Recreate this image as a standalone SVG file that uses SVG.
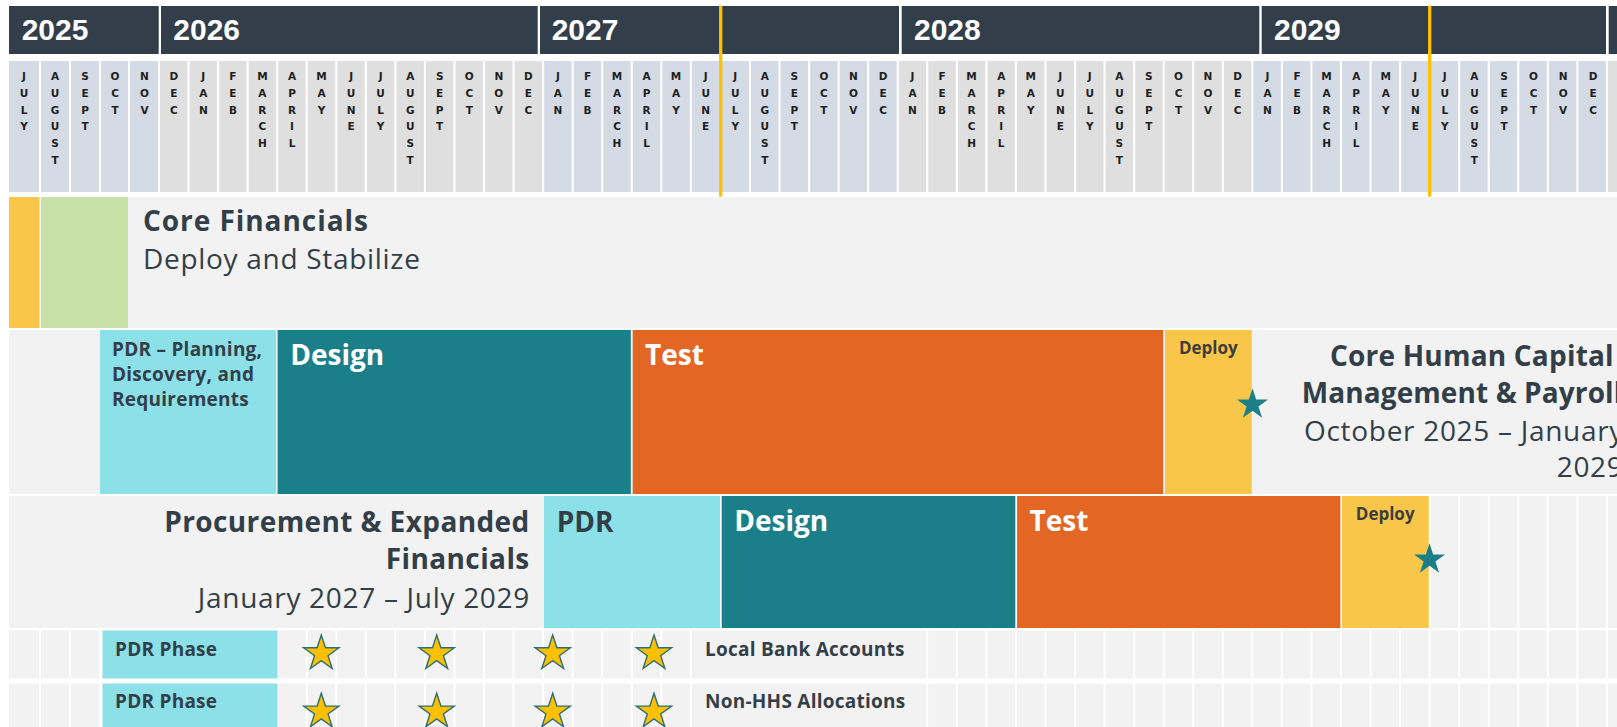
<svg xmlns="http://www.w3.org/2000/svg" width="1617" height="727" viewBox="0 0 1617 727">
  <style>
    .yr{fill:#323e49}
    .yt{font:700 30px "Liberation Sans",Arial,sans-serif;fill:#ffffff}
    .hb{fill:#d4dbe4}
    .hg{fill:#dfdfdf}
    .m{font:700 10.5px "DejaVu Sans",sans-serif;fill:#1e1e1e;text-anchor:middle}
    .band,.cell{fill:#f2f2f2}
    .yel{fill:#f8c749}
    .grn{fill:#c6e0a5}
    .cyn{fill:#8ce0e8}
    .teal{fill:#1b7f8a}
    .org{fill:#e36624}
    .h1{font:700 28px "Open Sans",sans-serif;fill:#333f48;letter-spacing:0.4px}
    .h2{font:400 28px "Open Sans",sans-serif;fill:#333f48;letter-spacing:0.7px}
    .bw{font:700 28px "Open Sans",sans-serif;fill:#ffffff}
    .bd{font:700 28px "Open Sans",sans-serif;fill:#333f48}
    .sm{font:700 19px "Open Sans",sans-serif;fill:#333f48;letter-spacing:0.25px}
    .dep{font:700 17px "Open Sans",sans-serif;fill:#3d3d3d;text-anchor:middle}
    .gold{stroke:#ffc000;stroke-width:3.3}
    .ystar{fill:#ffc000;stroke:#2f6f72;stroke-width:1.4;stroke-linejoin:miter}
    .tstar{fill:#1b7f8a}
  </style>
  <defs>
    <path id="star-y" d="M0,-18.5 L4.16,-5.72 L17.6,-5.72 L6.72,2.18 L10.87,14.97 L0,7.07 L-10.87,14.97 L-6.72,2.18 L-17.6,-5.72 L-4.16,-5.72 Z"/>
    <path id="star-t" d="M0,-16.3 L3.66,-5.04 L15.5,-5.04 L5.92,1.92 L9.58,13.19 L0,6.23 L-9.58,13.19 L-5.92,1.92 L-15.5,-5.04 L-3.66,-5.04 Z"/>
  </defs>

  <rect width="1617" height="727" fill="#ffffff"/>

  <!-- year bar -->
  <g id="years">
    <rect class="yr" x="9" y="6" width="149.7" height="48"/>
    <rect class="yr" x="161" y="6" width="376.7" height="48"/>
    <rect class="yr" x="540" y="6" width="359" height="48"/>
    <rect class="yr" x="901.7" y="6" width="357.6" height="48"/>
    <rect class="yr" x="1261.7" y="6" width="344.3" height="48"/>
    <rect class="yr" x="1608.7" y="6" width="9" height="48"/>
    <text class="yt" x="21.7" y="40">2025</text>
    <text class="yt" x="173.3" y="40">2026</text>
    <text class="yt" x="551.7" y="40">2027</text>
    <text class="yt" x="914" y="40">2028</text>
    <text class="yt" x="1274" y="40">2029</text>
  </g>

  <!-- month cells -->
  <g id="month-cells">
    <rect class="hb" x="9" y="61" width="30" height="131"/>
    <rect class="hb" x="41" y="61" width="28" height="131"/>
    <rect class="hb" x="71" y="61" width="28" height="131"/>
    <rect class="hb" x="101" y="61" width="27" height="131"/>
    <rect class="hb" x="130" y="61" width="28" height="131"/>
    <rect class="hg" x="160" y="61" width="27.5" height="131"/>
    <rect class="hg" x="189.55" y="61" width="27.5" height="131"/>
    <rect class="hg" x="219.1" y="61" width="27.5" height="131"/>
    <rect class="hg" x="248.65" y="61" width="27.5" height="131"/>
    <rect class="hg" x="278.2" y="61" width="27.5" height="131"/>
    <rect class="hg" x="307.75" y="61" width="27.5" height="131"/>
    <rect class="hg" x="337.3" y="61" width="27.5" height="131"/>
    <rect class="hg" x="366.85" y="61" width="27.5" height="131"/>
    <rect class="hg" x="396.4" y="61" width="27.5" height="131"/>
    <rect class="hg" x="425.95" y="61" width="27.5" height="131"/>
    <rect class="hg" x="455.5" y="61" width="27.5" height="131"/>
    <rect class="hg" x="485.05" y="61" width="27.5" height="131"/>
    <rect class="hg" x="514.6" y="61" width="27.5" height="131"/>
    <rect class="hb" x="544.15" y="61" width="27.5" height="131"/>
    <rect class="hb" x="573.7" y="61" width="27.5" height="131"/>
    <rect class="hb" x="603.25" y="61" width="27.5" height="131"/>
    <rect class="hb" x="632.8" y="61" width="27.5" height="131"/>
    <rect class="hb" x="662.35" y="61" width="27.5" height="131"/>
    <rect class="hb" x="691.9" y="61" width="27.5" height="131"/>
    <rect class="hb" x="721.45" y="61" width="27.5" height="131"/>
    <rect class="hb" x="751" y="61" width="27.5" height="131"/>
    <rect class="hb" x="780.55" y="61" width="27.5" height="131"/>
    <rect class="hb" x="810.1" y="61" width="27.5" height="131"/>
    <rect class="hb" x="839.65" y="61" width="27.5" height="131"/>
    <rect class="hb" x="869.2" y="61" width="27.5" height="131"/>
    <rect class="hg" x="898.75" y="61" width="27.5" height="131"/>
    <rect class="hg" x="928.3" y="61" width="27.5" height="131"/>
    <rect class="hg" x="957.85" y="61" width="27.5" height="131"/>
    <rect class="hg" x="987.4" y="61" width="27.5" height="131"/>
    <rect class="hg" x="1016.95" y="61" width="27.5" height="131"/>
    <rect class="hg" x="1046.5" y="61" width="27.5" height="131"/>
    <rect class="hg" x="1076.05" y="61" width="27.5" height="131"/>
    <rect class="hg" x="1105.6" y="61" width="27.5" height="131"/>
    <rect class="hg" x="1135.15" y="61" width="27.5" height="131"/>
    <rect class="hg" x="1164.7" y="61" width="27.5" height="131"/>
    <rect class="hg" x="1194.25" y="61" width="27.5" height="131"/>
    <rect class="hg" x="1223.8" y="61" width="27.5" height="131"/>
    <rect class="hb" x="1253.35" y="61" width="27.5" height="131"/>
    <rect class="hb" x="1282.9" y="61" width="27.5" height="131"/>
    <rect class="hb" x="1312.45" y="61" width="27.5" height="131"/>
    <rect class="hb" x="1342" y="61" width="27.5" height="131"/>
    <rect class="hb" x="1371.55" y="61" width="27.5" height="131"/>
    <rect class="hb" x="1401.1" y="61" width="27.5" height="131"/>
    <rect class="hb" x="1430.65" y="61" width="27.5" height="131"/>
    <rect class="hb" x="1460.2" y="61" width="27.5" height="131"/>
    <rect class="hb" x="1489.75" y="61" width="27.5" height="131"/>
    <rect class="hb" x="1519.3" y="61" width="27.5" height="131"/>
    <rect class="hb" x="1548.85" y="61" width="27.5" height="131"/>
    <rect class="hb" x="1578.4" y="61" width="27.5" height="131"/>
    <rect class="hg" x="1607.95" y="61" width="27.5" height="131"/>
  </g>

  <!-- month labels, one letter per line -->
  <g id="month-labels" class="m">
    <text x="24" y="80">J<tspan x="24" dy="16.8">U</tspan><tspan x="24" dy="16.8">L</tspan><tspan x="24" dy="16.8">Y</tspan></text>
    <text x="55" y="80">A<tspan x="55" dy="16.8">U</tspan><tspan x="55" dy="16.8">G</tspan><tspan x="55" dy="16.8">U</tspan><tspan x="55" dy="16.8">S</tspan><tspan x="55" dy="16.8">T</tspan></text>
    <text x="85" y="80">S<tspan x="85" dy="16.8">E</tspan><tspan x="85" dy="16.8">P</tspan><tspan x="85" dy="16.8">T</tspan></text>
    <text x="115" y="80">O<tspan x="115" dy="16.8">C</tspan><tspan x="115" dy="16.8">T</tspan></text>
    <text x="144.5" y="80">N<tspan x="144.5" dy="16.8">O</tspan><tspan x="144.5" dy="16.8">V</tspan></text>
    <text x="173.8" y="80">D<tspan x="173.8" dy="16.8">E</tspan><tspan x="173.8" dy="16.8">C</tspan></text>
    <text x="203.3" y="80">J<tspan x="203.3" dy="16.8">A</tspan><tspan x="203.3" dy="16.8">N</tspan></text>
    <text x="232.9" y="80">F<tspan x="232.9" dy="16.8">E</tspan><tspan x="232.9" dy="16.8">B</tspan></text>
    <text x="262.4" y="80">M<tspan x="262.4" dy="16.8">A</tspan><tspan x="262.4" dy="16.8">R</tspan><tspan x="262.4" dy="16.8">C</tspan><tspan x="262.4" dy="16.8">H</tspan></text>
    <text x="292" y="80">A<tspan x="292" dy="16.8">P</tspan><tspan x="292" dy="16.8">R</tspan><tspan x="292" dy="16.8">I</tspan><tspan x="292" dy="16.8">L</tspan></text>
    <text x="321.5" y="80">M<tspan x="321.5" dy="16.8">A</tspan><tspan x="321.5" dy="16.8">Y</tspan></text>
    <text x="351.1" y="80">J<tspan x="351.1" dy="16.8">U</tspan><tspan x="351.1" dy="16.8">N</tspan><tspan x="351.1" dy="16.8">E</tspan></text>
    <text x="380.6" y="80">J<tspan x="380.6" dy="16.8">U</tspan><tspan x="380.6" dy="16.8">L</tspan><tspan x="380.6" dy="16.8">Y</tspan></text>
    <text x="410.2" y="80">A<tspan x="410.2" dy="16.8">U</tspan><tspan x="410.2" dy="16.8">G</tspan><tspan x="410.2" dy="16.8">U</tspan><tspan x="410.2" dy="16.8">S</tspan><tspan x="410.2" dy="16.8">T</tspan></text>
    <text x="439.7" y="80">S<tspan x="439.7" dy="16.8">E</tspan><tspan x="439.7" dy="16.8">P</tspan><tspan x="439.7" dy="16.8">T</tspan></text>
    <text x="469.3" y="80">O<tspan x="469.3" dy="16.8">C</tspan><tspan x="469.3" dy="16.8">T</tspan></text>
    <text x="498.8" y="80">N<tspan x="498.8" dy="16.8">O</tspan><tspan x="498.8" dy="16.8">V</tspan></text>
    <text x="528.4" y="80">D<tspan x="528.4" dy="16.8">E</tspan><tspan x="528.4" dy="16.8">C</tspan></text>
    <text x="557.9" y="80">J<tspan x="557.9" dy="16.8">A</tspan><tspan x="557.9" dy="16.8">N</tspan></text>
    <text x="587.5" y="80">F<tspan x="587.5" dy="16.8">E</tspan><tspan x="587.5" dy="16.8">B</tspan></text>
    <text x="617" y="80">M<tspan x="617" dy="16.8">A</tspan><tspan x="617" dy="16.8">R</tspan><tspan x="617" dy="16.8">C</tspan><tspan x="617" dy="16.8">H</tspan></text>
    <text x="646.6" y="80">A<tspan x="646.6" dy="16.8">P</tspan><tspan x="646.6" dy="16.8">R</tspan><tspan x="646.6" dy="16.8">I</tspan><tspan x="646.6" dy="16.8">L</tspan></text>
    <text x="676.1" y="80">M<tspan x="676.1" dy="16.8">A</tspan><tspan x="676.1" dy="16.8">Y</tspan></text>
    <text x="705.7" y="80">J<tspan x="705.7" dy="16.8">U</tspan><tspan x="705.7" dy="16.8">N</tspan><tspan x="705.7" dy="16.8">E</tspan></text>
    <text x="735.2" y="80">J<tspan x="735.2" dy="16.8">U</tspan><tspan x="735.2" dy="16.8">L</tspan><tspan x="735.2" dy="16.8">Y</tspan></text>
    <text x="764.8" y="80">A<tspan x="764.8" dy="16.8">U</tspan><tspan x="764.8" dy="16.8">G</tspan><tspan x="764.8" dy="16.8">U</tspan><tspan x="764.8" dy="16.8">S</tspan><tspan x="764.8" dy="16.8">T</tspan></text>
    <text x="794.3" y="80">S<tspan x="794.3" dy="16.8">E</tspan><tspan x="794.3" dy="16.8">P</tspan><tspan x="794.3" dy="16.8">T</tspan></text>
    <text x="823.9" y="80">O<tspan x="823.9" dy="16.8">C</tspan><tspan x="823.9" dy="16.8">T</tspan></text>
    <text x="853.4" y="80">N<tspan x="853.4" dy="16.8">O</tspan><tspan x="853.4" dy="16.8">V</tspan></text>
    <text x="883" y="80">D<tspan x="883" dy="16.8">E</tspan><tspan x="883" dy="16.8">C</tspan></text>
    <text x="912.5" y="80">J<tspan x="912.5" dy="16.8">A</tspan><tspan x="912.5" dy="16.8">N</tspan></text>
    <text x="942.1" y="80">F<tspan x="942.1" dy="16.8">E</tspan><tspan x="942.1" dy="16.8">B</tspan></text>
    <text x="971.6" y="80">M<tspan x="971.6" dy="16.8">A</tspan><tspan x="971.6" dy="16.8">R</tspan><tspan x="971.6" dy="16.8">C</tspan><tspan x="971.6" dy="16.8">H</tspan></text>
    <text x="1001.2" y="80">A<tspan x="1001.2" dy="16.8">P</tspan><tspan x="1001.2" dy="16.8">R</tspan><tspan x="1001.2" dy="16.8">I</tspan><tspan x="1001.2" dy="16.8">L</tspan></text>
    <text x="1030.7" y="80">M<tspan x="1030.7" dy="16.8">A</tspan><tspan x="1030.7" dy="16.8">Y</tspan></text>
    <text x="1060.3" y="80">J<tspan x="1060.3" dy="16.8">U</tspan><tspan x="1060.3" dy="16.8">N</tspan><tspan x="1060.3" dy="16.8">E</tspan></text>
    <text x="1089.8" y="80">J<tspan x="1089.8" dy="16.8">U</tspan><tspan x="1089.8" dy="16.8">L</tspan><tspan x="1089.8" dy="16.8">Y</tspan></text>
    <text x="1119.4" y="80">A<tspan x="1119.4" dy="16.8">U</tspan><tspan x="1119.4" dy="16.8">G</tspan><tspan x="1119.4" dy="16.8">U</tspan><tspan x="1119.4" dy="16.8">S</tspan><tspan x="1119.4" dy="16.8">T</tspan></text>
    <text x="1148.9" y="80">S<tspan x="1148.9" dy="16.8">E</tspan><tspan x="1148.9" dy="16.8">P</tspan><tspan x="1148.9" dy="16.8">T</tspan></text>
    <text x="1178.5" y="80">O<tspan x="1178.5" dy="16.8">C</tspan><tspan x="1178.5" dy="16.8">T</tspan></text>
    <text x="1208" y="80">N<tspan x="1208" dy="16.8">O</tspan><tspan x="1208" dy="16.8">V</tspan></text>
    <text x="1237.6" y="80">D<tspan x="1237.6" dy="16.8">E</tspan><tspan x="1237.6" dy="16.8">C</tspan></text>
    <text x="1267.5" y="80">J<tspan x="1267.5" dy="16.8">A</tspan><tspan x="1267.5" dy="16.8">N</tspan></text>
    <text x="1297" y="80">F<tspan x="1297" dy="16.8">E</tspan><tspan x="1297" dy="16.8">B</tspan></text>
    <text x="1326.6" y="80">M<tspan x="1326.6" dy="16.8">A</tspan><tspan x="1326.6" dy="16.8">R</tspan><tspan x="1326.6" dy="16.8">C</tspan><tspan x="1326.6" dy="16.8">H</tspan></text>
    <text x="1356.2" y="80">A<tspan x="1356.2" dy="16.8">P</tspan><tspan x="1356.2" dy="16.8">R</tspan><tspan x="1356.2" dy="16.8">I</tspan><tspan x="1356.2" dy="16.8">L</tspan></text>
    <text x="1385.7" y="80">M<tspan x="1385.7" dy="16.8">A</tspan><tspan x="1385.7" dy="16.8">Y</tspan></text>
    <text x="1415.3" y="80">J<tspan x="1415.3" dy="16.8">U</tspan><tspan x="1415.3" dy="16.8">N</tspan><tspan x="1415.3" dy="16.8">E</tspan></text>
    <text x="1444.8" y="80">J<tspan x="1444.8" dy="16.8">U</tspan><tspan x="1444.8" dy="16.8">L</tspan><tspan x="1444.8" dy="16.8">Y</tspan></text>
    <text x="1474.4" y="80">A<tspan x="1474.4" dy="16.8">U</tspan><tspan x="1474.4" dy="16.8">G</tspan><tspan x="1474.4" dy="16.8">U</tspan><tspan x="1474.4" dy="16.8">S</tspan><tspan x="1474.4" dy="16.8">T</tspan></text>
    <text x="1504" y="80">S<tspan x="1504" dy="16.8">E</tspan><tspan x="1504" dy="16.8">P</tspan><tspan x="1504" dy="16.8">T</tspan></text>
    <text x="1533.5" y="80">O<tspan x="1533.5" dy="16.8">C</tspan><tspan x="1533.5" dy="16.8">T</tspan></text>
    <text x="1563.1" y="80">N<tspan x="1563.1" dy="16.8">O</tspan><tspan x="1563.1" dy="16.8">V</tspan></text>
    <text x="1593" y="80">D<tspan x="1593" dy="16.8">E</tspan><tspan x="1593" dy="16.8">C</tspan></text>
  </g>

  <!-- Core Financials -->
  <g id="core-financials">
    <rect class="band" x="9" y="197" width="1608" height="131"/>
    <rect class="yel" x="9" y="197" width="30.5" height="131"/>
    <rect class="grn" x="41" y="197" width="87" height="131"/>
    <text class="h1" x="143" y="231" style="letter-spacing:0.95px">Core Financials</text>
    <text class="h2" x="143" y="269">Deploy and Stabilize</text>
  </g>

  <!-- Core Human Capital Management & Payroll -->
  <g id="core-hcm">
    <rect class="band" x="9" y="330" width="1608" height="164"/>
    <rect class="cyn" x="100" y="330" width="176" height="164"/>
    <rect class="teal" x="277.6" y="330" width="353.2" height="164"/>
    <rect class="org" x="632.7" y="330" width="530.5" height="164"/>
    <rect class="yel" x="1165" y="330" width="86.7" height="164"/>
    <text class="sm" x="112" y="355.7">PDR – Planning,</text>
    <text class="sm" x="112" y="380.7">Discovery, and</text>
    <text class="sm" x="112" y="406">Requirements</text>
    <text class="bw" x="290.2" y="365">Design</text>
    <text class="bw" x="645" y="365">Test</text>
    <text class="dep" x="1208.3" y="354.3">Deploy</text>
    <use href="#star-t" class="tstar" x="1252.5" y="404.6"/>
    <text class="h1" x="1330" y="365.7" style="letter-spacing:0.2px">Core Human Capital</text>
    <text class="h1" x="1301.7" y="402.7" style="letter-spacing:0.1px">Management &amp; Payroll</text>
    <text class="h2" x="1304" y="441.3">October 2025 – January</text>
    <text class="h2" x="1556.7" y="476.7">2029</text>
  </g>

  <!-- Procurement & Expanded Financials -->
  <g id="procurement">
    <rect class="band" x="9" y="496" width="535" height="132"/>
    <rect class="cyn" x="544" y="496" width="176" height="132"/>
    <rect class="teal" x="721.7" y="496" width="293.6" height="132"/>
    <rect class="org" x="1017" y="496" width="323.4" height="132"/>
    <rect class="yel" x="1342" y="496" width="86.8" height="132"/>
    <rect class="cell" x="1430.65" y="496" width="27.5" height="132"/>
    <rect class="cell" x="1460.2" y="496" width="27.5" height="132"/>
    <rect class="cell" x="1489.75" y="496" width="27.5" height="132"/>
    <rect class="cell" x="1519.3" y="496" width="27.5" height="132"/>
    <rect class="cell" x="1548.85" y="496" width="27.5" height="132"/>
    <rect class="cell" x="1578.4" y="496" width="27.5" height="132"/>
    <rect class="cell" x="1607.95" y="496" width="27.5" height="132"/>
    <text class="h1" x="529.7" y="531.7" text-anchor="end">Procurement &amp; Expanded</text>
    <text class="h1" x="529.7" y="569.3" text-anchor="end">Financials</text>
    <text class="h2" x="530" y="608.3" text-anchor="end">January 2027 – July 2029</text>
    <text class="bd" x="556.7" y="531.7">PDR</text>
    <text class="bw" x="734.3" y="530.7">Design</text>
    <text class="bw" x="1029.5" y="531">Test</text>
    <text class="dep" x="1385.2" y="520.3">Deploy</text>
    <use href="#star-t" class="tstar" x="1429.5" y="559.6"/>
  </g>

  <!-- Local Bank Accounts -->
  <g id="local-bank-accounts">
    <rect class="cell" x="9" y="630.5" width="30" height="48"/>
    <rect class="cell" x="41" y="630.5" width="28" height="48"/>
    <rect class="cell" x="71" y="630.5" width="28" height="48"/>
    <rect class="cyn" x="102.5" y="630.5" width="175" height="48"/>
    <rect class="cell" x="278.2" y="630.5" width="27.5" height="48"/>
    <rect class="cell" x="307.75" y="630.5" width="27.5" height="48"/>
    <rect class="cell" x="337.3" y="630.5" width="27.5" height="48"/>
    <rect class="cell" x="366.85" y="630.5" width="27.5" height="48"/>
    <rect class="cell" x="396.4" y="630.5" width="27.5" height="48"/>
    <rect class="cell" x="425.95" y="630.5" width="27.5" height="48"/>
    <rect class="cell" x="455.5" y="630.5" width="27.5" height="48"/>
    <rect class="cell" x="485.05" y="630.5" width="27.5" height="48"/>
    <rect class="cell" x="514.6" y="630.5" width="27.5" height="48"/>
    <rect class="cell" x="544.15" y="630.5" width="27.5" height="48"/>
    <rect class="cell" x="573.7" y="630.5" width="27.5" height="48"/>
    <rect class="cell" x="603.25" y="630.5" width="27.5" height="48"/>
    <rect class="cell" x="632.8" y="630.5" width="27.5" height="48"/>
    <rect class="cell" x="662.35" y="630.5" width="27.5" height="48"/>
    <rect class="cell" x="691.9" y="630.5" width="234.4" height="48"/>
    <rect class="cell" x="928.3" y="630.5" width="27.5" height="48"/>
    <rect class="cell" x="957.85" y="630.5" width="27.5" height="48"/>
    <rect class="cell" x="987.4" y="630.5" width="27.5" height="48"/>
    <rect class="cell" x="1016.95" y="630.5" width="27.5" height="48"/>
    <rect class="cell" x="1046.5" y="630.5" width="27.5" height="48"/>
    <rect class="cell" x="1076.05" y="630.5" width="27.5" height="48"/>
    <rect class="cell" x="1105.6" y="630.5" width="27.5" height="48"/>
    <rect class="cell" x="1135.15" y="630.5" width="27.5" height="48"/>
    <rect class="cell" x="1164.7" y="630.5" width="27.5" height="48"/>
    <rect class="cell" x="1194.25" y="630.5" width="27.5" height="48"/>
    <rect class="cell" x="1223.8" y="630.5" width="27.5" height="48"/>
    <rect class="cell" x="1253.35" y="630.5" width="27.5" height="48"/>
    <rect class="cell" x="1282.9" y="630.5" width="27.5" height="48"/>
    <rect class="cell" x="1312.45" y="630.5" width="27.5" height="48"/>
    <rect class="cell" x="1342" y="630.5" width="27.5" height="48"/>
    <rect class="cell" x="1371.55" y="630.5" width="27.5" height="48"/>
    <rect class="cell" x="1401.1" y="630.5" width="27.5" height="48"/>
    <rect class="cell" x="1430.65" y="630.5" width="27.5" height="48"/>
    <rect class="cell" x="1460.2" y="630.5" width="27.5" height="48"/>
    <rect class="cell" x="1489.75" y="630.5" width="27.5" height="48"/>
    <rect class="cell" x="1519.3" y="630.5" width="27.5" height="48"/>
    <rect class="cell" x="1548.85" y="630.5" width="27.5" height="48"/>
    <rect class="cell" x="1578.4" y="630.5" width="27.5" height="48"/>
    <rect class="cell" x="1607.95" y="630.5" width="27.5" height="48"/>
    <text class="sm" x="115" y="655.5">PDR Phase</text>
    <use href="#star-y" class="ystar" x="321.3" y="653.5"/>
    <use href="#star-y" class="ystar" x="436.7" y="653.5"/>
    <use href="#star-y" class="ystar" x="552.7" y="653.5"/>
    <use href="#star-y" class="ystar" x="654" y="653.5"/>
    <text class="sm" x="705" y="655.5">Local Bank Accounts</text>
  </g>

  <!-- Non-HHS Allocations -->
  <g id="non-hhs-allocations">
    <rect class="cell" x="9" y="683.5" width="30" height="44"/>
    <rect class="cell" x="41" y="683.5" width="28" height="44"/>
    <rect class="cell" x="71" y="683.5" width="28" height="44"/>
    <rect class="cyn" x="102.5" y="683.5" width="175" height="44"/>
    <rect class="cell" x="278.2" y="683.5" width="27.5" height="44"/>
    <rect class="cell" x="307.75" y="683.5" width="27.5" height="44"/>
    <rect class="cell" x="337.3" y="683.5" width="27.5" height="44"/>
    <rect class="cell" x="366.85" y="683.5" width="27.5" height="44"/>
    <rect class="cell" x="396.4" y="683.5" width="27.5" height="44"/>
    <rect class="cell" x="425.95" y="683.5" width="27.5" height="44"/>
    <rect class="cell" x="455.5" y="683.5" width="27.5" height="44"/>
    <rect class="cell" x="485.05" y="683.5" width="27.5" height="44"/>
    <rect class="cell" x="514.6" y="683.5" width="27.5" height="44"/>
    <rect class="cell" x="544.15" y="683.5" width="27.5" height="44"/>
    <rect class="cell" x="573.7" y="683.5" width="27.5" height="44"/>
    <rect class="cell" x="603.25" y="683.5" width="27.5" height="44"/>
    <rect class="cell" x="632.8" y="683.5" width="27.5" height="44"/>
    <rect class="cell" x="662.35" y="683.5" width="27.5" height="44"/>
    <rect class="cell" x="691.9" y="683.5" width="234.4" height="44"/>
    <rect class="cell" x="928.3" y="683.5" width="27.5" height="44"/>
    <rect class="cell" x="957.85" y="683.5" width="27.5" height="44"/>
    <rect class="cell" x="987.4" y="683.5" width="27.5" height="44"/>
    <rect class="cell" x="1016.95" y="683.5" width="27.5" height="44"/>
    <rect class="cell" x="1046.5" y="683.5" width="27.5" height="44"/>
    <rect class="cell" x="1076.05" y="683.5" width="27.5" height="44"/>
    <rect class="cell" x="1105.6" y="683.5" width="27.5" height="44"/>
    <rect class="cell" x="1135.15" y="683.5" width="27.5" height="44"/>
    <rect class="cell" x="1164.7" y="683.5" width="27.5" height="44"/>
    <rect class="cell" x="1194.25" y="683.5" width="27.5" height="44"/>
    <rect class="cell" x="1223.8" y="683.5" width="27.5" height="44"/>
    <rect class="cell" x="1253.35" y="683.5" width="27.5" height="44"/>
    <rect class="cell" x="1282.9" y="683.5" width="27.5" height="44"/>
    <rect class="cell" x="1312.45" y="683.5" width="27.5" height="44"/>
    <rect class="cell" x="1342" y="683.5" width="27.5" height="44"/>
    <rect class="cell" x="1371.55" y="683.5" width="27.5" height="44"/>
    <rect class="cell" x="1401.1" y="683.5" width="27.5" height="44"/>
    <rect class="cell" x="1430.65" y="683.5" width="27.5" height="44"/>
    <rect class="cell" x="1460.2" y="683.5" width="27.5" height="44"/>
    <rect class="cell" x="1489.75" y="683.5" width="27.5" height="44"/>
    <rect class="cell" x="1519.3" y="683.5" width="27.5" height="44"/>
    <rect class="cell" x="1548.85" y="683.5" width="27.5" height="44"/>
    <rect class="cell" x="1578.4" y="683.5" width="27.5" height="44"/>
    <rect class="cell" x="1607.95" y="683.5" width="27.5" height="44"/>
    <text class="sm" x="115" y="707.5">PDR Phase</text>
    <use href="#star-y" class="ystar" x="321.3" y="711.8"/>
    <use href="#star-y" class="ystar" x="436.7" y="711.8"/>
    <use href="#star-y" class="ystar" x="552.7" y="711.8"/>
    <use href="#star-y" class="ystar" x="654" y="711.8"/>
    <text class="sm" x="705" y="707.5">Non-HHS Allocations</text>
  </g>

  <!-- milestone lines across the calendar header -->
  <g id="milestone-lines">
    <line class="gold" x1="720.7" y1="5.7" x2="720.7" y2="196.7"/>
    <line class="gold" x1="1429.7" y1="5.7" x2="1429.7" y2="196.7"/>
  </g>
</svg>
